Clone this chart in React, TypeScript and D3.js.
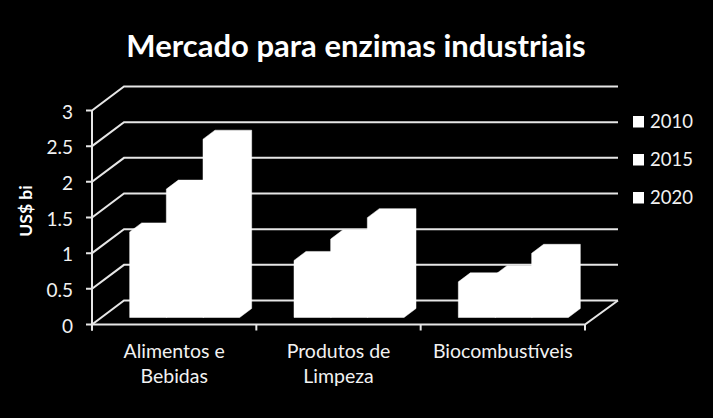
import React, { useEffect, useRef } from 'react';
import * as d3 from 'd3';

const title = 'Mercado para enzimas industriais';
const yLabel = 'US$ bi';
const categories = ['Alimentos e|Bebidas', 'Produtos de|Limpeza', 'Biocombustíveis'];
const years = ['2010', '2015', '2020'];
const values2010 = [1.2, 0.8, 0.5];
const values2015 = [1.8, 1.1, 0.6];
const values2020 = [2.5, 1.4, 0.9];
const yTicks = [0, 0.5, 1, 1.5, 2, 2.5, 3];

const series = [values2010, values2015, values2020];

const App = () => {
  const svgRef = useRef<SVGSVGElement>(null);

  useEffect(() => {
    const svg = d3.select(svgRef.current);
    svg.selectAll('*').remove();

    const font = 'Lato, sans-serif';
    const lineColor = '#e6e6e6';

    // front plane of the 3D box
    const left = 92;
    const right = 585;
    const bottom = 324.5;
    const top = 110.5;
    const depthX = 32;
    const depthY = -24;

    // bars sit in the middle of the box depth
    const barDepthX = 12;
    const barDepthY = -9;
    const barShiftX = 10.5;
    const barShiftY = -7;

    const x = d3.scaleBand().domain(categories).range([left, right]);
    const y = d3.scaleLinear().domain([0, 3]).range([bottom, top]);
    const inner = d3.scaleBand().domain(years).range([0, 110]);
    const barStart = (x.bandwidth() - 110) / 2;

    svg.append('rect').attr('width', 713).attr('height', 418).attr('fill', '#000');

    // walls
    const grid = svg.append('g').attr('fill', 'none').attr('stroke', lineColor).attr('stroke-width', 2);
    yTicks.forEach(t => {
      const path = d3.path();
      path.moveTo(left - 6, y(t));
      path.lineTo(left, y(t));
      path.lineTo(left + depthX, y(t) + depthY);
      path.lineTo(right + depthX + 1, y(t) + depthY);
      grid.append('path').attr('d', path.toString());
    });

    // axes
    const axisY = d3.path();
    axisY.moveTo(left, top);
    axisY.lineTo(left, bottom + 6);
    grid.append('path').attr('d', axisY.toString());

    const floor = d3.path();
    floor.moveTo(left, bottom);
    floor.lineTo(right, bottom);
    floor.lineTo(right + depthX + 1, bottom + depthY);
    grid.append('path').attr('d', floor.toString());

    [...categories.map(c => x(c) as number), right].forEach(px => {
      grid.append('line').attr('x1', px).attr('x2', px).attr('y1', bottom).attr('y2', bottom + 6);
    });

    // bars
    const bars = svg.append('g').attr('fill', '#fff').attr('stroke', '#fff').attr('stroke-width', 0.5);
    categories.forEach((c, ci) => {
      years.forEach((yr, si) => {
        const x0 = (x(c) as number) + barStart + (inner(yr) as number) + barShiftX;
        const x1 = x0 + inner.bandwidth();
        const y0 = y(0) + barShiftY;
        const y1 = y(series[si][ci]) + barShiftY;
        const shape = d3.path();
        shape.moveTo(x0, y0);
        shape.lineTo(x0, y1);
        shape.lineTo(x0 + barDepthX, y1 + barDepthY);
        shape.lineTo(x1 + barDepthX, y1 + barDepthY);
        shape.lineTo(x1 + barDepthX, y0 + barDepthY);
        shape.lineTo(x1, y0);
        shape.closePath();
        bars.append('path').attr('d', shape.toString());
      });
    });

    // y tick labels
    svg.append('g')
      .selectAll('text')
      .data(yTicks)
      .enter()
      .append('text')
      .attr('x', 73)
      .attr('y', d => y(d) + 8)
      .attr('text-anchor', 'end')
      .attr('font-family', font)
      .attr('font-size', 19)
      .attr('fill', '#f2f2f2')
      .text(d => String(d));

    // category labels
    categories.forEach(c => {
      const lines = c.split('|');
      const label = svg.append('text')
        .attr('text-anchor', 'middle')
        .attr('font-family', font)
        .attr('font-size', 19.5)
        .attr('fill', '#f2f2f2');
      lines.forEach((line, i) => {
        label.append('tspan')
          .attr('x', (x(c) as number) + x.bandwidth() / 2)
          .attr('y', 358 + i * 24.5)
          .text(line);
      });
    });

    // title
    svg.append('text')
      .attr('x', 356)
      .attr('y', 56.5)
      .attr('text-anchor', 'middle')
      .attr('font-family', font)
      .attr('font-weight', 700)
      .attr('font-size', 31)
      .attr('fill', '#fff')
      .text(title);

    // axis title
    svg.append('text')
      .attr('transform', 'translate(32,211) rotate(-90)')
      .attr('text-anchor', 'middle')
      .attr('font-family', font)
      .attr('font-weight', 700)
      .attr('font-size', 17.5)
      .attr('fill', '#fff')
      .text(yLabel);

    // legend
    const legendY = d3.scalePoint().domain(years).range([122, 198]);
    years.forEach(yr => {
      const ly = legendY(yr) as number;
      svg.append('rect').attr('x', 633).attr('y', ly - 6).attr('width', 11).attr('height', 11.5).attr('fill', '#fff');
      svg.append('text')
        .attr('x', 650)
        .attr('y', ly + 6)
        .attr('font-family', font)
        .attr('font-size', 18.5)
        .attr('fill', '#f2f2f2')
        .text(yr);
    });
  }, []);

  return <svg ref={svgRef} width={713} height={418} style={{ position: 'absolute', left: 0, top: 0 }} />;
};

export default App;
